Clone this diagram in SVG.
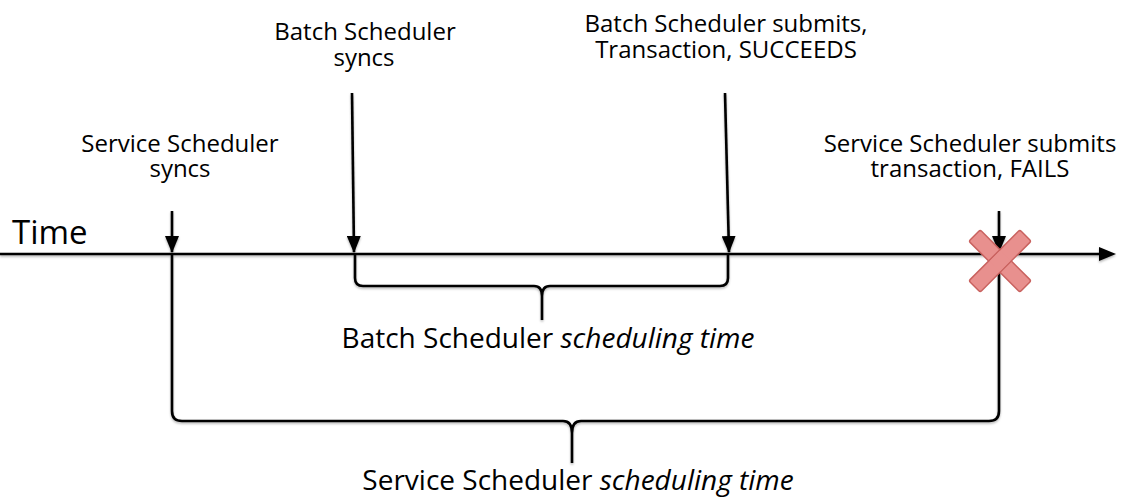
<svg xmlns="http://www.w3.org/2000/svg" width="1130" height="498" viewBox="0 0 1130 498">
<style>
text{font-family:"Open Sans","Noto Sans",sans-serif;fill:#000;}
.lbl{font-size:24px;text-anchor:middle;}
.big{font-size:28px;text-anchor:middle;}
.ln{stroke:#000;stroke-width:2.6;fill:none;}
.br{stroke:#000;stroke-width:2.6;fill:none;stroke-linejoin:round;}
</style>
<defs>
<marker id="ahs" viewBox="0 0 17 14" markerWidth="17" markerHeight="14" refX="16" refY="7" orient="auto" markerUnits="userSpaceOnUse">
<path d="M0,0 L17,7 L0,14 Z" fill="#000"/>
</marker>
<filter id="sh" filterUnits="userSpaceOnUse" x="0" y="0" width="1130" height="498">
<feDropShadow dx="0" dy="1.5" stdDeviation="1" flood-color="#000" flood-opacity="0.3"/>
</filter>
</defs>
<g id="axis">
<text x="12" y="244" style="font-size:33px">Time</text>
<g filter="url(#sh)">
<line class="ln" x1="0" y1="254" x2="1102" y2="254"/>
<path d="M1099,247 L1116,254 L1099,261 Z" fill="#000"/>
</g>
</g>
<g id="connectors" filter="url(#sh)">
<line class="ln" x1="172" y1="211" x2="172" y2="252" marker-end="url(#ahs)"/>
<line class="ln" x1="352" y1="93" x2="354" y2="252" marker-end="url(#ahs)"/>
<line class="ln" x1="725" y1="93" x2="729" y2="252" marker-end="url(#ahs)"/>
<line class="ln" x1="999" y1="211" x2="999" y2="252" marker-end="url(#ahs)"/>
<path class="br" d="M355,255 V278 Q355,286 363,286 H534 Q542,286 542,296 V320 M542,296 Q542,286 550,286 H720 Q728,286 728,278 V255"/>
<path class="br" d="M172,255 V411 Q172,421 182,421 H563 Q572,421 572,433 V463 M572,433 Q572,421 581,421 H989 Q999,421 999,411 V255"/>
</g>
<g id="n-service-sync">
<text class="lbl" x="180" y="152">Service Scheduler<tspan x="180" dy="25">syncs</tspan></text>
</g>
<g id="n-batch-sync">
<text class="lbl" x="365" y="40">Batch Scheduler<tspan x="364" dy="26">syncs</tspan></text>
</g>
<g id="n-batch-submit">
<text class="lbl" x="726" y="32">Batch Scheduler submits,<tspan x="726" dy="26">Transaction, SUCCEEDS</tspan></text>
</g>
<g id="n-service-submit">
<text class="lbl" x="970" y="152">Service Scheduler submits<tspan x="970" dy="25">transaction, FAILS</tspan></text>
</g>
<g id="fail-x">
<g transform="translate(1000,261) rotate(45)">
<rect x="-36" y="-8" width="72" height="16" rx="2" fill="#e8908e" stroke="#c9625f" stroke-width="1.5"/>
<rect x="-8" y="-36" width="16" height="72" rx="2" fill="#e8908e" stroke="#c9625f" stroke-width="1.5"/>
<rect x="-7.2" y="-7.2" width="14.4" height="14.4" fill="#e8908e"/>
</g>
</g>
<g id="n-batch-time">
<text class="big" x="548" y="348">Batch Scheduler <tspan font-style="italic">scheduling time</tspan></text>
</g>
<g id="n-service-time">
<text class="big" x="578" y="490">Service Scheduler <tspan font-style="italic">scheduling time</tspan></text>
</g>
</svg>
